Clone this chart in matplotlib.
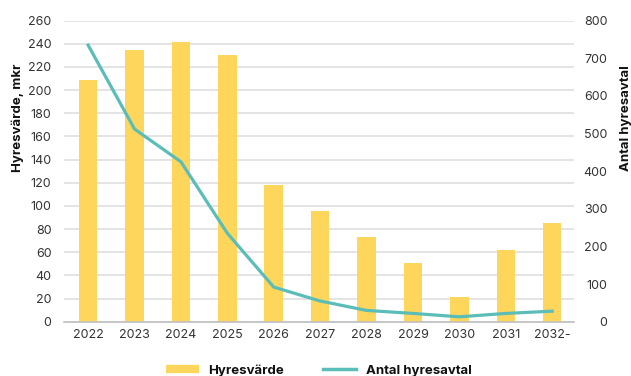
import matplotlib
matplotlib.use("Agg")
import matplotlib.pyplot as plt
from matplotlib.lines import Line2D

plt.rcParams['font.family'] = ['Inter', 'DejaVu Sans']

# data
years = ["2022", "2023", "2024", "2025", "2026", "2027", "2028", "2029", "2030", "2031", "2032-"]
hyresvarde = [209, 235, 242, 230, 118, 96, 73, 51, 21, 62, 85]
antal_avtal = [735, 512, 425, 235, 92, 55, 30, 22, 13, 22, 28]

bar_color = "#FFD65C"
line_color = "#5BBDB8"
grid_color = "#DCDCDC"
text_color = "#333333"

fig = plt.figure(figsize=(6.31, 3.76), dpi=100)
ax = fig.add_axes([0.1014, 0.1444, 0.8083, 0.8006])
ax2 = ax.twinx()

x = list(range(len(years)))
ax.bar(x, hyresvarde, width=0.4, color=bar_color, zorder=2)
ax2.plot(x, antal_avtal, color=line_color, lw=2.3, zorder=3)

ax.set_xlim(-0.52, 10.47)
ax.set_ylim(0, 260)
ax.set_yticks(range(0, 261, 20))
ax2.set_ylim(0, 800)
ax2.set_yticks(range(0, 801, 100))

ax.grid(axis='y', color=grid_color, lw=1.1, zorder=0)
ax.set_axisbelow(True)
ax.set_xticks(x)
ax.set_xticklabels(years)

for a in (ax, ax2):
    for s in a.spines.values():
        s.set_visible(False)
ax.spines['bottom'].set_visible(True)
ax.spines['bottom'].set_color("#BFBFBF")
ax.spines['bottom'].set_linewidth(1.2)

ax.tick_params(axis='both', length=0, labelsize=9, labelcolor=text_color)
ax.tick_params(axis='y', pad=9)
ax.tick_params(axis='x', pad=5)
ax2.tick_params(axis='y', length=0, labelsize=9, labelcolor=text_color, pad=24)
for lab in ax2.get_yticklabels():
    lab.set_horizontalalignment('right')

ax.set_ylabel("Hyresvärde, mkr", fontsize=9.5, fontweight='bold', color="#111111")
ax.yaxis.set_label_coords(-0.078, 0.677)
ax2.set_ylabel("Antal hyresavtal", fontsize=9.5, fontweight='bold', color="#111111")
ax2.yaxis.set_label_coords(1.091, 0.677)

handles = [Line2D([0], [0], color=bar_color, lw=6, solid_capstyle='butt'),
           Line2D([0], [0], color=line_color, lw=2.5)]
fig.legend(handles, ["Hyresvärde", "Antal hyresavtal"], loc='center',
           bbox_to_anchor=(0.505, 0.014), ncol=2, frameon=False,
           prop={'weight': 'bold', 'size': 9.5}, handlelength=2.5,
           handletextpad=0.7, columnspacing=3.0, labelcolor="#111111")

fig.savefig("out.png", dpi=100)
